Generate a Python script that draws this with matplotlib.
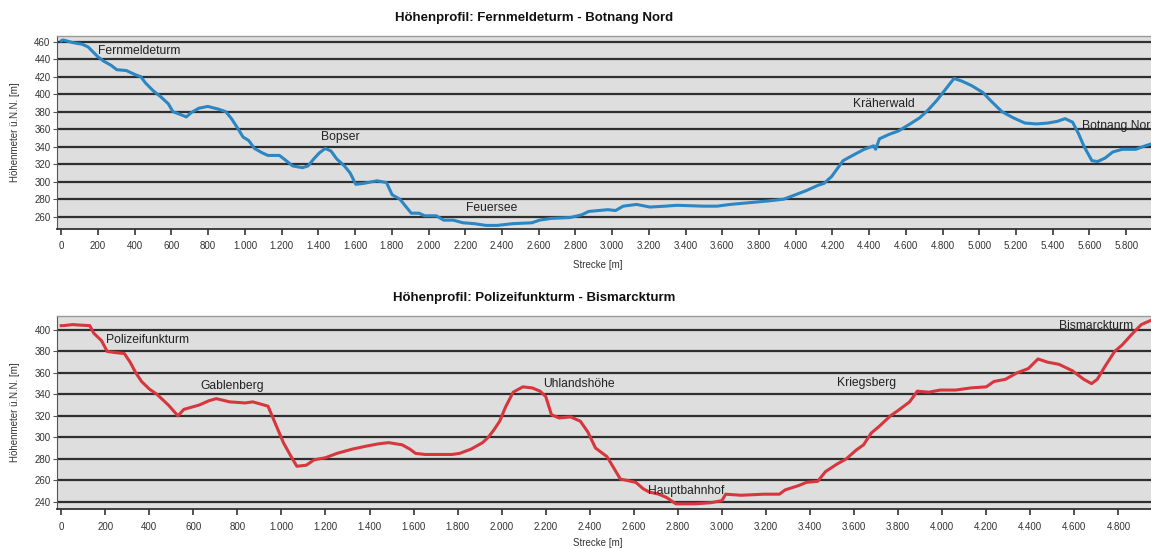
import numpy as np
import matplotlib.pyplot as plt
from matplotlib.ticker import FuncFormatter, MultipleLocator

plt.rcParams['font.family'] = ['Liberation Sans', 'DejaVu Sans']

# Höhenprofil 1: Fernmeldeturm - Botnang Nord
dist1 = [0, 10, 62, 115, 146, 198, 229, 271, 302, 354, 406, 433, 458, 500, 542, 583, 608, 646,
         681, 708, 750, 798, 854, 896, 927, 958, 990, 1021, 1052, 1094, 1125, 1188, 1219, 1260,
         1313, 1344, 1375, 1406, 1438, 1469, 1500, 1542, 1573, 1604, 1646, 1719, 1771, 1802,
         1844, 1875, 1906, 1948, 1979, 2042, 2083, 2135, 2188, 2250, 2313, 2375, 2458, 2563,
         2604, 2667, 2771, 2833, 2873, 2977, 3019, 3060, 3133, 3206, 3290, 3352, 3498, 3571,
         3644, 3748, 3852, 3935, 3998, 4060, 4123, 4154, 4196, 4258, 4310, 4373, 4425, 4435,
         4456, 4508, 4560, 4623, 4675, 4717, 4769, 4810, 4862, 4904, 4956, 5019, 5060, 5123,
         5185, 5248, 5310, 5373, 5425, 5467, 5508, 5540, 5571, 5613, 5644, 5685, 5727, 5779,
         5852, 5904, 5935]
elev1 = [461, 462, 459, 457, 454, 443, 438, 433, 428, 427, 422, 420, 413, 404, 397, 389, 380, 377,
         374, 379, 384, 386, 383, 380, 372, 362, 351, 347, 338, 333, 330, 330, 325, 318,
         316, 318, 326, 333, 338, 335, 326, 318, 310, 297, 298, 301, 299, 285,
         280, 272, 264, 264, 261, 261, 256, 256, 253, 252, 250, 250, 252, 253,
         256, 258, 259, 262, 266, 268, 267, 272, 274, 271, 272, 273, 272, 272,
         274, 276, 278, 280, 285, 290, 296, 298, 306, 324, 330, 337, 341, 337,
         349, 354, 358, 366, 373, 381, 393, 404, 418, 415, 410, 402, 393, 380,
         373, 367, 366, 367, 369, 372, 368, 355, 340, 324, 323, 327, 334, 337,
         337, 341, 343]
labels1 = ["Fernmeldeturm", "Bopser", "Feuersee", "Kräherwald", "Botnang Nord"]
label_x1 = [200, 1416, 2204, 4314, 5560]
label_y1 = [449, 351, 270, 389, 364]

# Höhenprofil 2: Polizeifunkturm - Bismarckturm
dist2 = [0, 9, 52, 87, 130, 148, 183, 209, 243, 287, 313, 339, 365, 400, 435, 487, 530, 557, 591,
         626, 670, 704, 765, 835, 870, 922, 939, 974, 1009, 1044, 1070, 1113, 1148, 1200, 1252,
         1322, 1391, 1443, 1487, 1548, 1583, 1609, 1652, 1722, 1774, 1809, 1861, 1913, 1939,
         1965, 1991, 2017, 2052, 2096, 2139, 2174, 2200, 2226, 2261, 2313, 2357, 2391, 2426,
         2478, 2513, 2539, 2565, 2609, 2643, 2670, 2713, 2748, 2791, 2878, 2948, 3000, 3017,
         3087, 3191, 3261, 3287, 3348, 3383, 3435, 3470, 3522, 3565, 3609, 3643, 3678, 3713,
         3765, 3800, 3852, 3887, 3939, 3991, 4061, 4130, 4200, 4235, 4287, 4339, 4391, 4435,
         4478, 4530, 4591, 4643, 4678, 4704, 4739, 4783, 4817, 4861, 4904, 4948]
elev2 = [404, 404, 405, 404.5, 404, 397, 390, 380, 379, 378, 370, 360, 352, 345, 340, 330, 320, 326, 328,
         330, 334, 336, 333, 332, 333, 330, 329, 312, 295, 282, 273, 274, 279, 281, 285,
         289, 292, 294, 295, 293, 289, 285, 284, 284, 284, 285, 289, 295, 300,
         307, 315, 328, 342, 347, 346, 343, 338, 321, 318, 319, 315, 305, 290,
         282, 270, 261, 260, 258, 252, 249, 247, 244, 238, 238, 239, 241, 247,
         246, 247, 247, 251, 255, 258, 259, 268, 275, 280, 288, 293, 304, 310,
         320, 325, 333, 343, 342, 344, 344, 346, 347, 352, 354, 360, 364, 373,
         370, 368, 362, 354, 350, 354, 366, 380, 386, 396, 405, 409]
labels2 = ["Polizeifunkturm", "Gablenberg", "Uhlandshöhe", "Hauptbahnhof", "Kriegsberg", "Bismarckturm"]
label_x2 = [205, 630, 2188, 2666, 3522, 4530]
label_y2 = [390.5, 348, 349.5, 250, 351, 404]

panels = [
    dict(title="Höhenprofil: Fernmeldeturm - Botnang Nord", x=dist1, y=elev1, color="#2b86c3",
         labels=labels1, lx=label_x1, ly=label_y1, xlim=(-21, 5935), ylim=(245.9, 466.5),
         yticks=np.arange(260, 461, 20), rect=[0.0499, 1 - 229 / 549, 0.9501, 193 / 549],
         title_y=1 - 18 / 549, xlabel_y=1 - 265 / 549),
    dict(title="Höhenprofil: Polizeifunkturm - Bismarckturm", x=dist2, y=elev2, color="#d7363d",
         labels=labels2, lx=label_x2, ly=label_y2, xlim=(-17, 4948), ylim=(233.2, 413),
         yticks=np.arange(240, 401, 20), rect=[0.0499, 1 - 509 / 549, 0.9501, 193 / 549],
         title_y=1 - 298 / 549, xlabel_y=1 - 543 / 549),
]

fig = plt.figure(figsize=(11.51, 5.49), dpi=100)

def de_fmt(v, pos):
    return f"{int(round(v)):,}".replace(",", ".")

for p in panels:
    ax = fig.add_axes(p["rect"])
    ax.set_facecolor("#dedede")
    ax.set_xlim(*p["xlim"])
    ax.set_ylim(*p["ylim"])
    ax.set_yticks(p["yticks"])
    ax.xaxis.set_major_locator(MultipleLocator(200))
    ax.xaxis.set_major_formatter(FuncFormatter(de_fmt))
    for yv in p["yticks"]:
        ax.axhline(yv, color="#2f2f2f", lw=1.6, zorder=1)
    ax.plot(p["x"], p["y"], color=p["color"], lw=2.2, zorder=3, solid_joinstyle="round")
    for t, tx, ty in zip(p["labels"], p["lx"], p["ly"]):
        ax.text(tx, ty, t, fontsize=8.7, color="#222222", va="center", ha="left", zorder=4)
    ax.spines["right"].set_visible(False)
    ax.spines["top"].set_color("#9a9a9a")
    ax.spines["top"].set_linewidth(1.0)
    ax.spines["left"].set_color("#555555")
    ax.spines["bottom"].set_color("#333333")
    ax.spines["bottom"].set_linewidth(1.3)
    ax.tick_params(axis="x", direction="out", length=4, width=1.2, color="#333333",
                   labelsize=7, labelcolor="#333333", pad=5)
    ax.tick_params(axis="y", direction="out", length=3, width=0.8, color="#555555",
                   labelsize=7, labelcolor="#333333", pad=2)
    ax.set_ylabel("Höhenmeter ü.N.N. [m]", fontsize=7, color="#333333", labelpad=10)
    fig.text(534 / 1151, p["title_y"], p["title"], ha="center", va="center",
             fontsize=9.5, fontweight="bold", color="#111111")
    fig.text(598 / 1151, p["xlabel_y"], "Strecke [m]", ha="center", va="center",
             fontsize=7, color="#333333")

fig.savefig("out.png", dpi=100, facecolor="white")
